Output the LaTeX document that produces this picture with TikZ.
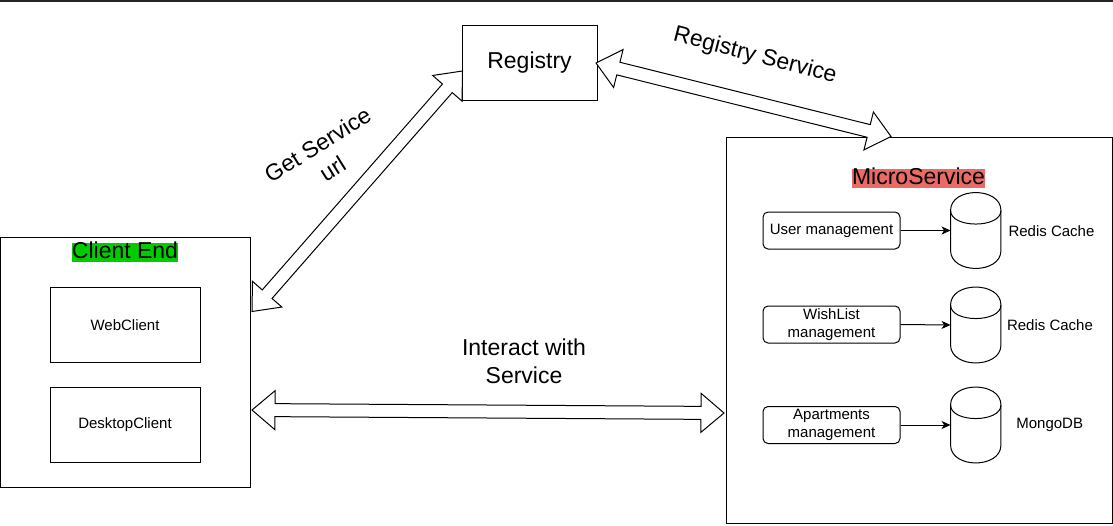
\documentclass[tikz,border=0pt]{standalone}
\usepackage{fontspec}
\setmainfont{Liberation Sans}
\usetikzlibrary{calc,arrows.meta}
\definecolor{hlgreen}{RGB}{0,204,0}
\definecolor{hlred}{RGB}{234,107,102}
\definecolor{topband}{RGB}{38,38,38}

\newcommand{\dblockarrow}[2]{%
  \draw[blockarrow] (#1)
    -- ($(#1)!23pt!(#2)!19.5pt!90:(#2)$)
    -- ($(#1)!23pt!(#2)!6.5pt!90:(#2)$)
    -- ($(#2)!23pt!(#1)!6.5pt!90:(#2)$)
    -- ($(#2)!23pt!(#1)!19.5pt!90:(#2)$)
    -- (#2)
    -- ($(#2)!23pt!(#1)!19.5pt!-90:(#2)$)
    -- ($(#2)!23pt!(#1)!6.5pt!-90:(#2)$)
    -- ($(#1)!23pt!(#2)!6.5pt!-90:(#2)$)
    -- ($(#1)!23pt!(#2)!19.5pt!-90:(#2)$)
    -- cycle;}

\newcommand{\drawcyl}[1]{%
  \draw[line width=1pt, fill=white]
    ($(#1.north west)+(0,18)$) .. controls ($(#1.north west)+(0,-6)$) and ($(#1.north east)+(0,-6)$) .. ($(#1.north east)+(0,18)$)
    -- ($(#1.south east)+(0,-18)$) .. controls ($(#1.south east)+(0,6)$) and ($(#1.south west)+(0,6)$) .. ($(#1.south west)+(0,-18)$)
    -- cycle;
  \draw[line width=1pt]
    ($(#1.north west)+(0,18)$) .. controls ($(#1.north west)+(0,36)$) and ($(#1.north east)+(0,36)$) .. ($(#1.north east)+(0,18)$);}

\tikzset{
  box/.style={draw, line width=1pt, inner sep=0pt, align=center},
  small/.style={font=\fontsize{15}{18}\selectfont},
  big/.style={font=\fontsize{23}{28}\selectfont},
  rbox/.style={box, rounded corners=5pt, minimum width=137pt, minimum height=37pt, small},
  cbox/.style={box, minimum width=150pt, minimum height=75pt, small},
  cylnode/.style={inner sep=0pt, minimum width=50pt, minimum height=75.5pt},
  blockarrow/.style={draw, fill=white, line width=1pt, line join=miter},
  conn/.style={-{Stealth[length=9pt,width=8pt,inset=2.5pt]}, line width=1pt},
  hl/.style={inner xsep=0pt, inner ysep=0pt, text height=15.5pt, text depth=3.5pt, big},
  lbl/.style={inner sep=0pt, align=center}
}

\begin{document}
\begin{tikzpicture}[x=1pt, y=-1pt]
\useasboundingbox (0,0) rectangle (1113,525);
\fill[topband] (0,0) rectangle (1113,2);

% main boxes
\node[box, minimum width=135pt, minimum height=75pt, big] (registry) at (529.5,62.5) {Registry};
\node[box, minimum width=250pt, minimum height=250pt] (client) at (125,362) {};
\node[box, minimum width=386pt, minimum height=386pt] (micro) at (919,330) {};

% client end content
\node[hl, fill=hlgreen] (clientlbl) at (125,252.2) {Client End};
\node[cbox] (web) at (125,325) {WebClient};
\node[cbox] (desk) at (125,425) {DesktopClient};

% microservice content
\node[hl, fill=hlred] (microlbl) at (918.5,178) {MicroService};
\node[rbox] (user) at (831.5,230.5) {User management};
\node[rbox] (wish) at (831.5,324.5) {WishList\\management};
\node[rbox] (apt) at (831.5,425) {Apartments\\management};

\node[cylnode] (cyl1) at (975.75,230.5) {};
\node[cylnode] (cyl2) at (975.75,325) {};
\node[cylnode] (cyl3) at (975.75,425) {};
\drawcyl{cyl1}
\drawcyl{cyl2}
\drawcyl{cyl3}
\node[lbl, small] (c1lbl) at (1051.5,231) {Redis Cache};
\node[lbl, small] (c2lbl) at (1050,325) {Redis Cache};
\node[lbl, small] (c3lbl) at (1049.7,425) {MongoDB};

\draw[conn] (user.east) -- (cyl1.west);
\draw[conn] (wish.east) -- (cyl2.west);
\draw[conn] (apt.east) -- (cyl3.west);

% block arrows
\coordinate (gsA) at ($(client.east)+(1.5,-50.5)$);
\coordinate (gsB) at ($(registry.west)+(1,8.5)$);
\coordinate (rsA) at ($(registry.east)+(-1.5,0.5)$);
\coordinate (rsB) at ($(micro.north)+(-28,0)$);
\coordinate (iaA) at ($(client.east)+(1.5,48)$);
\coordinate (iaB) at ($(micro.west)+(-1.5,83)$);
\dblockarrow{gsA}{gsB}
\dblockarrow{rsA}{rsB}
\dblockarrow{iaA}{iaB}

% arrow labels
\node[lbl, big, rotate=32] (gslbl) at (325,156.5) {Get Service\\url};
\node[lbl, big, rotate=-14.5] (rslbl) at (755,56) {Registry Service};
\node[lbl, big] (ialbl) at (524,361) {Interact with\\Service};
\end{tikzpicture}
\end{document}
